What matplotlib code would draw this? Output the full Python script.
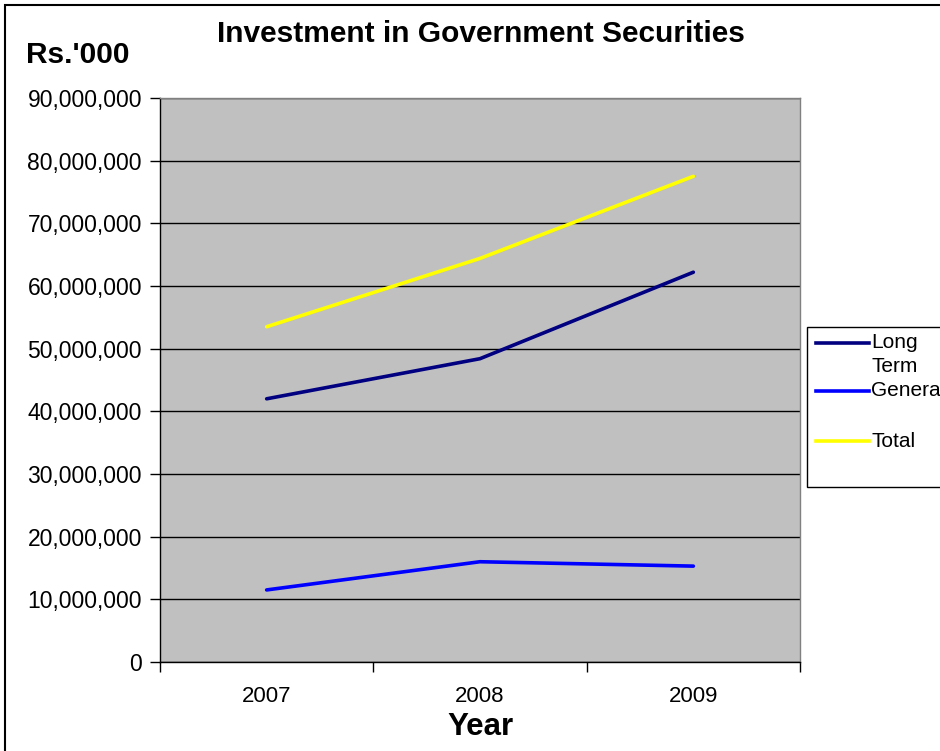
import matplotlib
matplotlib.use("Agg")
import matplotlib.pyplot as plt
from matplotlib.patches import Rectangle
from matplotlib.lines import Line2D
import matplotlib.ticker as mtick

plt.rcParams['font.family'] = ['Liberation Sans', 'DejaVu Sans']

# Rs.'000
years = ['2007', '2008', '2009']
long_term = [42000000, 48400000, 62200000]
general = [11500000, 16000000, 15300000]
total = [53500000, 64400000, 77500000]

series_names = ['Long\nTerm', 'General', 'Total']
series_colors = ['#000080', '#0000FF', '#FFFF00']

W, H = 940, 751
fig = plt.figure(figsize=(W / 100, H / 100), dpi=100)
ax = fig.add_axes([160 / W, 1 - 662 / H, 640 / W, 564 / H])
ax.set_facecolor('#C0C0C0')

x = range(len(years))
for vals, col in zip([long_term, general, total], series_colors):
    ax.plot(x, vals, color=col, linewidth=2.6, solid_capstyle='round')

ax.set_xlim(-0.5, len(years) - 0.5)
ax.set_ylim(0, 90000000)
ax.yaxis.set_major_locator(mtick.MultipleLocator(10000000))
ax.yaxis.set_major_formatter(mtick.FuncFormatter(lambda v, p: '{:,.0f}'.format(v)))
ax.grid(axis='y', color='black', linewidth=1)
ax.set_axisbelow(True)

# category labels in the middle, tick marks on the boundaries
ax.set_xticks(list(x))
ax.set_xticklabels(years)
ax.set_xticks([i - 0.5 for i in range(len(years) + 1)], minor=True)
ax.tick_params(axis='x', which='major', length=0, pad=17, labelsize=16)
ax.tick_params(axis='x', which='minor', length=7, width=1, direction='out')
ax.tick_params(axis='y', length=7, width=1, direction='out', pad=6, labelsize=16.5)

for s in ['left', 'bottom']:
    ax.spines[s].set_color('black')
    ax.spines[s].set_linewidth(1)
for s in ['top', 'right']:
    ax.spines[s].set_color('#808080')
    ax.spines[s].set_linewidth(1)

fig.text(481 / W, 1 - 34 / H, 'Investment in Government Securities', ha='center', va='center',
         fontsize=21.5, fontweight='bold')
fig.text(26 / W, 1 - 55 / H, "Rs.'000", ha='left', va='center', fontsize=21.5, fontweight='bold')
fig.text(480 / W, 1 - 727 / H, 'Year', ha='center', va='center', fontsize=22.5, fontweight='bold')

# outer frame
fig.patches.append(Rectangle((5 / W, -0.1), 1.2, 1 - 5 / H + 0.1, transform=fig.transFigure,
                             fill=False, edgecolor='black', linewidth=1.5))

# legend box, runs off the right edge
fig.patches.append(Rectangle((807 / W, 1 - 487 / H), 200 / W, 160 / H, transform=fig.transFigure,
                             facecolor='white', edgecolor='black', linewidth=1))
leg_y = [343, 391, 441]
for name, col, yy in zip(series_names, series_colors, leg_y):
    fig.lines.append(Line2D([816 / W, 869 / W], [1 - yy / H, 1 - yy / H], transform=fig.transFigure,
                            color=col, linewidth=2.6))
    for k, part in enumerate(name.split('\n')):
        fig.text(871 / W, 1 - (yy + 24 * k) / H, part, ha='left', va='center', fontsize=15)

fig.savefig('out.png', dpi=100)
